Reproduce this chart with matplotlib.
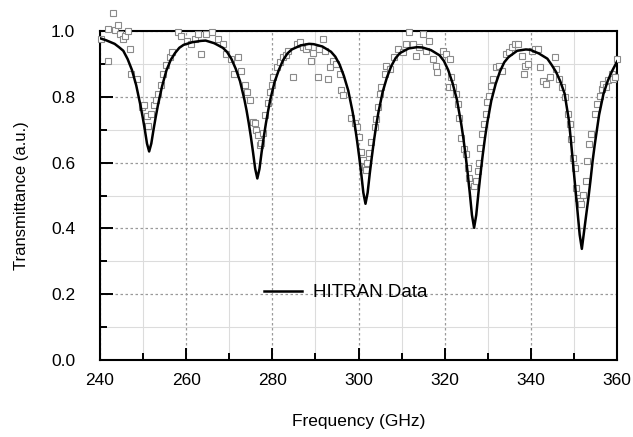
import matplotlib
matplotlib.use("Agg")
import matplotlib.pyplot as plt
from matplotlib.ticker import MultipleLocator, FormatStrFormatter

plt.rcParams['font.family'] = ['Liberation Sans', 'DejaVu Sans']

# HITRAN model curve
freq_line = [240.0, 241.4, 243.4, 244.4, 245.4, 246.4, 247.4, 248.4, 248.9, 249.4,
             249.9, 250.4, 250.9, 251.4, 251.9, 252.4, 252.9, 253.4, 253.9, 254.4,
             255.4, 256.4, 257.4, 258.4, 259.4, 261.4, 263.4, 264.5, 266.5, 268.5,
             269.5, 270.5, 271.5, 272.5, 273.5, 274.0, 274.5, 275.0, 275.5, 276.0,
             276.5, 277.0, 277.5, 278.0, 278.5, 279.0, 279.5, 280.5, 281.5, 282.5,
             283.5, 284.5, 286.5, 288.5, 289.6, 291.6, 293.6, 294.6, 295.6, 296.6,
             297.6, 298.6, 299.1, 299.6, 300.1, 300.6, 301.1, 301.6, 302.1, 302.6,
             303.1, 303.6, 304.1, 304.6, 305.6, 306.6, 307.6, 308.6, 309.6, 311.6,
             313.6, 314.8, 316.8, 318.8, 319.8, 320.8, 321.8, 322.8, 323.8, 324.3,
             324.8, 325.3, 325.8, 326.3, 326.8, 327.3, 327.8, 328.3, 328.8, 329.3,
             329.8, 330.8, 331.8, 332.8, 333.8, 334.8, 336.8, 338.8, 339.8, 341.8,
             343.8, 344.8, 345.8, 346.8, 347.8, 348.8, 349.3, 349.8, 350.3, 350.8,
             351.3, 351.8, 352.3, 352.8, 353.3, 353.8, 354.3, 354.8, 355.8, 356.8,
             357.8, 358.8, 360.0]
trans_line = [0.978, 0.972, 0.961, 0.951, 0.940, 0.915, 0.882, 0.835, 0.804, 0.773,
              0.738, 0.700, 0.658, 0.634, 0.658, 0.699, 0.737, 0.772, 0.803, 0.832,
              0.880, 0.912, 0.933, 0.949, 0.958, 0.966, 0.970, 0.971, 0.963, 0.949,
              0.936, 0.915, 0.885, 0.847, 0.792, 0.759, 0.721, 0.679, 0.632, 0.582,
              0.552, 0.581, 0.632, 0.678, 0.720, 0.757, 0.791, 0.845, 0.882, 0.912,
              0.932, 0.944, 0.956, 0.961, 0.960, 0.953, 0.937, 0.922, 0.898, 0.863,
              0.819, 0.755, 0.716, 0.671, 0.622, 0.568, 0.509, 0.475, 0.509, 0.568,
              0.621, 0.670, 0.714, 0.753, 0.816, 0.860, 0.894, 0.918, 0.933, 0.947,
              0.951, 0.950, 0.942, 0.926, 0.909, 0.881, 0.842, 0.792, 0.719, 0.675,
              0.625, 0.569, 0.508, 0.441, 0.402, 0.441, 0.507, 0.568, 0.623, 0.673,
              0.717, 0.789, 0.839, 0.877, 0.905, 0.921, 0.940, 0.944, 0.943, 0.932,
              0.916, 0.897, 0.876, 0.847, 0.810, 0.728, 0.662, 0.592, 0.522, 0.455,
              0.381, 0.338, 0.390, 0.440, 0.490, 0.545, 0.605, 0.655, 0.745, 0.808,
              0.848, 0.878, 0.908]

# measured points (open squares)
freq_meas = [240.2, 241.8, 241.9, 243.1, 243.5, 244.1, 244.6, 245.4, 245.9, 246.4,
             246.9, 247.2, 248.5, 249.7, 250.3, 250.8, 251.2, 251.9, 252.6, 253.1,
             253.5, 254.1, 254.7, 255.4, 256.2, 256.7, 258.0, 258.8, 260.1, 261.2,
             262.0, 262.8, 263.5, 264.7, 265.9, 267.4, 268.6, 269.3, 270.5, 271.1,
             272.0, 272.8, 273.6, 274.2, 274.7, 275.5, 276.0, 276.2, 276.7, 277.1,
             277.3, 277.8, 278.2, 279.0, 279.4, 279.8, 280.2, 281.0, 281.7, 282.5,
             283.2, 283.6, 284.8, 285.6, 286.3, 287.1, 287.9, 288.3, 289.0, 289.4,
             290.6, 290.8, 291.7, 292.1, 292.9, 293.3, 294.0, 294.8, 295.6, 295.9,
             296.3, 298.3, 299.1, 299.6, 300.2, 300.6, 301.0, 301.4, 301.8, 301.9,
             302.5, 302.9, 303.7, 304.1, 304.5, 304.9, 305.3, 306.1, 306.4, 307.2,
             308.3, 309.1, 310.3, 311.0, 311.8, 312.6, 313.3, 314.1, 314.9, 315.6,
             316.4, 317.2, 317.9, 318.3, 319.5, 320.3, 321.0, 321.1, 321.5, 321.9,
             322.6, 323.0, 323.4, 323.8, 324.4, 324.9, 325.3, 325.7, 326.1, 326.7,
             327.2, 327.6, 328.0, 328.2, 328.7, 329.0, 329.5, 329.9, 330.3, 330.7,
             331.3, 331.8, 332.6, 333.3, 334.1, 334.9, 335.6, 336.4, 336.9, 337.9,
             338.3, 338.7, 339.4, 340.2, 340.9, 341.7, 342.1, 342.8, 343.6, 344.3,
             345.5, 345.9, 346.6, 347.3, 347.8, 348.6, 349.0, 349.3, 349.7, 350.1,
             350.5, 350.9, 351.3, 351.7, 352.1, 352.7, 353.0, 353.5, 354.0, 354.8,
             355.4, 356.0, 356.4, 356.8, 357.5, 357.9, 358.7, 359.1, 359.5, 359.9]
trans_meas = [0.977, 0.910, 1.007, 1.055, 1.003, 1.017, 0.990, 0.977, 0.986, 1.000,
              0.946, 0.870, 0.855, 0.768, 0.774, 0.743, 0.712, 0.747, 0.774, 0.790,
              0.810, 0.836, 0.870, 0.896, 0.920, 0.937, 0.997, 0.986, 0.970, 0.960,
              0.977, 0.992, 0.930, 0.992, 0.997, 0.977, 0.960, 0.930, 0.915, 0.870,
              0.920, 0.880, 0.836, 0.815, 0.790, 0.725, 0.720, 0.700, 0.684, 0.654,
              0.660, 0.690, 0.745, 0.780, 0.815, 0.836, 0.861, 0.890, 0.907, 0.920,
              0.926, 0.940, 0.860, 0.960, 0.966, 0.950, 0.945, 0.955, 0.910, 0.934,
              0.861, 0.945, 0.975, 0.940, 0.855, 0.890, 0.910, 0.900, 0.870, 0.820,
              0.805, 0.737, 0.722, 0.707, 0.677, 0.633, 0.608, 0.588, 0.578, 0.598,
              0.628, 0.664, 0.707, 0.732, 0.768, 0.808, 0.829, 0.870, 0.895, 0.885,
              0.920, 0.946, 0.935, 0.960, 0.997, 0.960, 0.925, 0.950, 0.990, 0.940,
              0.970, 0.915, 0.895, 0.875, 0.940, 0.930, 0.830, 0.915, 0.859, 0.829,
              0.808, 0.778, 0.737, 0.676, 0.640, 0.625, 0.585, 0.554, 0.534, 0.529,
              0.544, 0.575, 0.600, 0.646, 0.686, 0.717, 0.748, 0.783, 0.803, 0.834,
              0.855, 0.890, 0.895, 0.880, 0.930, 0.936, 0.950, 0.960, 0.962, 0.925,
              0.870, 0.895, 0.900, 0.940, 0.946, 0.946, 0.890, 0.849, 0.839, 0.860,
              0.920, 0.885, 0.855, 0.829, 0.798, 0.748, 0.717, 0.671, 0.615, 0.585,
              0.524, 0.493, 0.483, 0.473, 0.503, 0.544, 0.605, 0.656, 0.686, 0.748,
              0.778, 0.803, 0.824, 0.839, 0.829, 0.850, 0.870, 0.855, 0.860, 0.916]

fig = plt.figure(figsize=(6.33, 4.37), dpi=100)
ax = fig.add_axes([0.158, 0.176, 0.817, 0.753])

ax.plot(freq_meas, trans_meas, 's', ms=4.8, mfc='white', mec='#8a8a8a', mew=0.8,
        clip_on=False, zorder=3)
ax.plot(freq_line, trans_line, color='black', lw=1.8, label='HITRAN Data', zorder=4)

ax.set_xlim(240, 360)
ax.set_ylim(0, 1.0)
ax.xaxis.set_major_locator(MultipleLocator(20))
ax.xaxis.set_minor_locator(MultipleLocator(10))
ax.yaxis.set_major_locator(MultipleLocator(0.2))
ax.yaxis.set_minor_locator(MultipleLocator(0.1))
ax.yaxis.set_major_formatter(FormatStrFormatter('%.1f'))

ax.grid(which='major', color='#9a9a9a', linestyle=(0, (2, 2)), lw=0.9)
ax.grid(which='minor', color='#dcdcdc', linestyle='-', lw=0.8)
ax.set_axisbelow(True)

ax.tick_params(which='both', direction='in', top=False, right=False, width=1.4,
               labelsize=12.5)
ax.tick_params(axis='y', pad=18)
ax.tick_params(axis='x', pad=9)
ax.tick_params(which='major', length=9)
ax.tick_params(which='minor', length=5)
for s in ax.spines.values():
    s.set_linewidth(1.5)

ax.set_xlabel('Frequency (GHz)', fontsize=12.5, labelpad=19)
ax.set_ylabel('Transmittance (a.u.)', fontsize=12, labelpad=16)

ax.legend(loc='center', bbox_to_anchor=(0.475, 0.205), frameon=False,
          fontsize=13.5, handlelength=2.0, handletextpad=0.6)

fig.savefig('out.png', dpi=100)
